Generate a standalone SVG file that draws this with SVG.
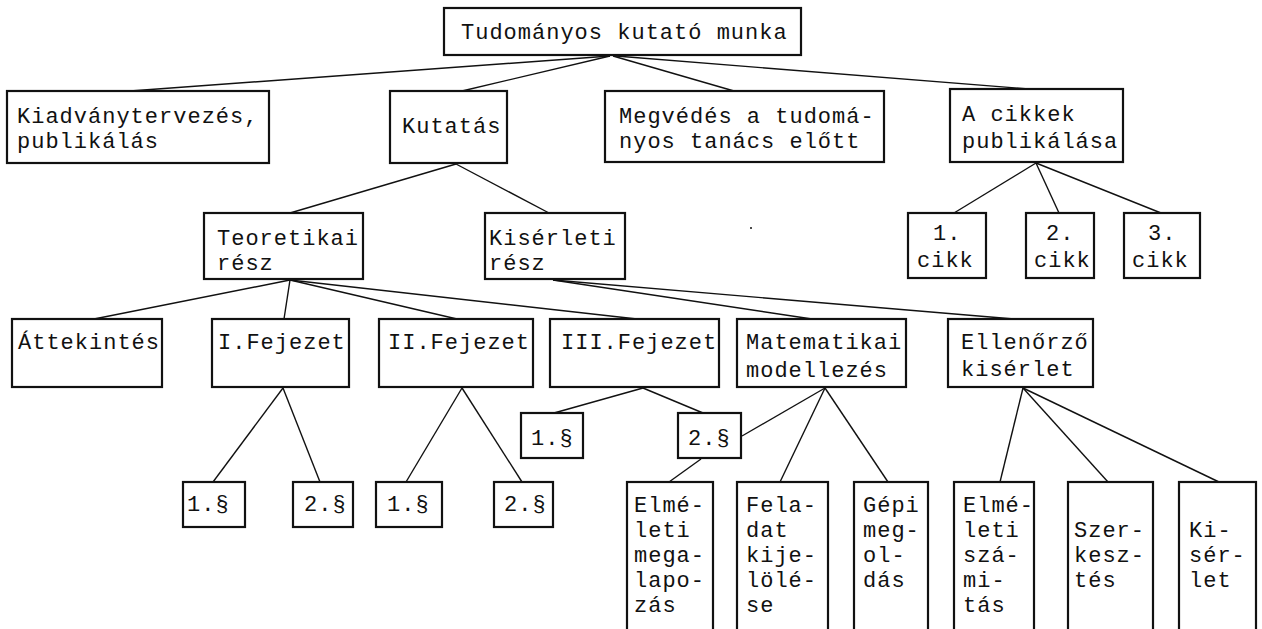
<svg xmlns="http://www.w3.org/2000/svg" width="1262" height="629" viewBox="0 0 1262 629">
<style>
.b{fill:#fff;stroke:#111;stroke-width:2.2}
.c line{stroke:#111;stroke-width:1.4}
text{font-family:"Liberation Mono","DejaVu Sans Mono",monospace;font-size:22px;letter-spacing:1px;fill:#111}
</style>
<rect width="1262" height="629" fill="#fff"/>
<g id="connectors" class="c">
<line x1="610" y1="56" x2="130" y2="91"/>
<line x1="610" y1="56" x2="462" y2="91"/>
<line x1="613" y1="56" x2="734" y2="91"/>
<line x1="616" y1="56" x2="1041" y2="90"/>
<line x1="456" y1="164" x2="290" y2="213"/>
<line x1="456" y1="164" x2="549" y2="213"/>
<line x1="1036" y1="163" x2="954" y2="213"/>
<line x1="1036" y1="163" x2="1059" y2="213"/>
<line x1="1036" y1="163" x2="1161" y2="213"/>
<line x1="290" y1="280" x2="94" y2="319"/>
<line x1="290" y1="280" x2="284" y2="319"/>
<line x1="290" y1="280" x2="457" y2="319"/>
<line x1="290" y1="280" x2="637" y2="319"/>
<line x1="553" y1="280" x2="812" y2="319"/>
<line x1="553" y1="280" x2="1014" y2="319"/>
<line x1="283" y1="388" x2="213" y2="482"/>
<line x1="283" y1="388" x2="320" y2="482"/>
<line x1="462" y1="388" x2="406" y2="482"/>
<line x1="462" y1="388" x2="522" y2="482"/>
<line x1="643" y1="388" x2="554" y2="413"/>
<line x1="643" y1="388" x2="703" y2="413"/>
<line x1="825" y1="388" x2="742" y2="436"/>
<line x1="825" y1="388" x2="780" y2="482"/>
<line x1="825" y1="388" x2="888" y2="482"/>
<line x1="701" y1="459" x2="669" y2="482"/>
<line x1="1023" y1="388" x2="1000" y2="482"/>
<line x1="1023" y1="388" x2="1108" y2="482"/>
<line x1="1023" y1="388" x2="1219" y2="482"/>
</g>
<circle cx="751" cy="228" r="1" fill="#111"/>
<g id="n-top"><rect class="b" x="444" y="8" width="357" height="47"/><text x="461" y="39">Tudományos kutató munka</text></g>
<g id="n-kiad"><rect class="b" x="7" y="91" width="262" height="72"/><text x="17" y="123">Kiadványtervezés,</text><text x="17" y="148">publikálás</text></g>
<g id="n-kutatas"><rect class="b" x="390" y="91" width="117" height="72"/><text x="402" y="133">Kutatás</text></g>
<g id="n-megv"><rect class="b" x="605" y="91" width="279" height="71"/><text x="619" y="123">Megvédés a tudomá-</text><text x="619" y="148">nyos tanács előtt</text></g>
<g id="n-cikkek"><rect class="b" x="950" y="89" width="173" height="73"/><text x="962" y="121">A cikkek</text><text x="962" y="148">publikálása</text></g>
<g id="n-teor"><rect class="b" x="204" y="213" width="159" height="66"/><text x="217" y="245">Teoretikai</text><text x="217" y="270">rész</text></g>
<g id="n-kiserl"><rect class="b" x="485" y="213" width="140" height="66"/><text x="489" y="245">Kisérleti</text><text x="489" y="270">rész</text></g>
<g id="n-c1"><rect class="b" x="908" y="213" width="78" height="65"/><text x="933" y="240">1.</text><text x="917" y="267">cikk</text></g>
<g id="n-c2"><rect class="b" x="1026" y="213" width="68" height="65"/><text x="1046" y="240">2.</text><text x="1034" y="267">cikk</text></g>
<g id="n-c3"><rect class="b" x="1124" y="213" width="76" height="65"/><text x="1148" y="240">3.</text><text x="1132" y="267">cikk</text></g>
<g id="n-attek"><rect class="b" x="12" y="319" width="150" height="68"/><text x="18" y="349">Áttekintés</text></g>
<g id="n-fej1"><rect class="b" x="212" y="319" width="137" height="68"/><text x="218" y="349">I.Fejezet</text></g>
<g id="n-fej2"><rect class="b" x="379" y="319" width="154" height="68"/><text x="388" y="349">II.Fejezet</text></g>
<g id="n-fej3"><rect class="b" x="550" y="319" width="169" height="68"/><text x="561" y="349">III.Fejezet</text></g>
<g id="n-mat"><rect class="b" x="737" y="319" width="169" height="68"/><text x="746" y="349">Matematikai</text><text x="746" y="377">modellezés</text></g>
<g id="n-ell"><rect class="b" x="948" y="319" width="145" height="68"/><text x="961" y="349">Ellenőrző</text><text x="961" y="376">kisérlet</text></g>
<g id="n-p11"><rect class="b" x="183" y="482" width="62" height="45"/><text x="187" y="511">1.§</text></g>
<g id="n-p12"><rect class="b" x="293" y="482" width="60" height="45"/><text x="304" y="511">2.§</text></g>
<g id="n-p21"><rect class="b" x="376" y="482" width="66" height="45"/><text x="387" y="511">1.§</text></g>
<g id="n-p22"><rect class="b" x="494" y="482" width="59" height="45"/><text x="504" y="511">2.§</text></g>
<g id="n-p31"><rect class="b" x="521" y="413" width="62" height="45"/><text x="531" y="445">1.§</text></g>
<g id="n-p32"><rect class="b" x="678" y="413" width="63" height="45"/><text x="688" y="445">2.§</text></g>
<g id="n-t1"><rect class="b" x="627" y="482" width="86" height="160"/><text x="634" y="512">Elmé-</text><text x="634" y="537">leti</text><text x="634" y="562">mega-</text><text x="634" y="587">lapo-</text><text x="634" y="612">zás</text></g>
<g id="n-t2"><rect class="b" x="737" y="482" width="91" height="160"/><text x="746" y="512">Fela-</text><text x="746" y="537">dat</text><text x="746" y="562">kije-</text><text x="746" y="587">lölé-</text><text x="746" y="612">se</text></g>
<g id="n-t3"><rect class="b" x="854" y="482" width="74" height="160"/><text x="863" y="512">Gépi</text><text x="863" y="537">meg-</text><text x="863" y="562">ol-</text><text x="863" y="587">dás</text></g>
<g id="n-t4"><rect class="b" x="954" y="482" width="80" height="160"/><text x="963" y="512">Elmé-</text><text x="963" y="537">leti</text><text x="963" y="562">szá-</text><text x="963" y="587">mi-</text><text x="963" y="612">tás</text></g>
<g id="n-t5"><rect class="b" x="1068" y="482" width="85" height="160"/><text x="1074" y="537">Szer-</text><text x="1074" y="562">kesz-</text><text x="1074" y="587">tés</text></g>
<g id="n-t6"><rect class="b" x="1179" y="482" width="77" height="160"/><text x="1189" y="537">Ki-</text><text x="1189" y="562">sér-</text><text x="1189" y="587">let</text></g>
</svg>
